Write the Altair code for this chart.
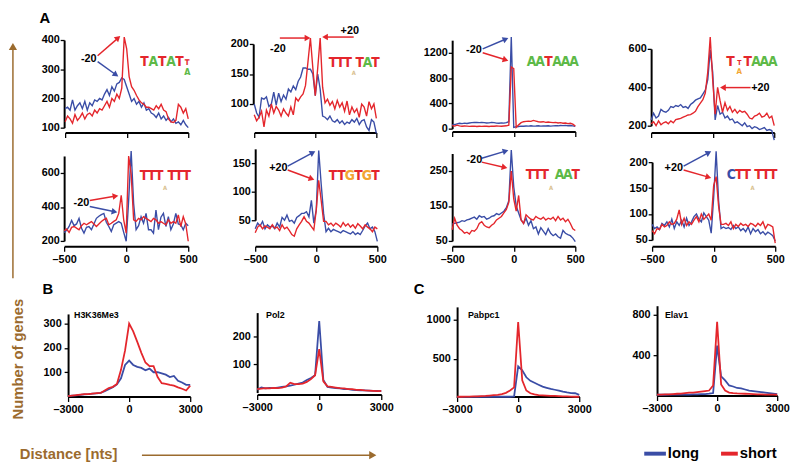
import math
import altair as alt
import pandas as pd

BLUE = "#3A4DA6"
RED = "#E4262C"
GREEN = "#5DB947"
ORANGE = "#F2A531"
BEIGE = "#D9BF8F"
BROWN = "#9B6B2E"
FONT = "Liberation Sans"
LOGO_FONT = "Liberation Sans Narrow, DejaVu Sans Condensed, Liberation Sans"

# ---------------- data ----------------
nts_a = list(range(-500, 501, 20))
nts_b = list(range(-3000, 3001, 200))

tatat_long = [165,170,160,195,160,175,185,165,190,160,185,175,195,190,200,195,215,230,210,240,
              225,250,255,270,265,240,215,190,200,180,190,170,185,160,165,150,145,135,150,130,
              140,125,135,120,130,115,120,110,125,110,100]
tatat_short = [120,140,130,115,145,125,135,150,130,145,150,140,160,150,165,160,175,190,170,200,
               190,215,200,235,410,370,275,240,228,210,195,185,180,170,170,165,160,175,165,180,
               160,155,130,120,118,125,180,170,150,165,130]

tttat_long = [100,85,78,110,108,112,96,100,120,98,118,104,115,108,125,120,130,124,138,145,
              160,160,158,158,150,114,150,125,80,78,74,80,72,70,74,68,72,66,70,68,
              74,70,76,66,72,74,62,56,74,70,51]
tttat_short = [82,72,78,88,62,90,80,100,85,96,90,80,92,85,80,95,82,110,105,112,
               117,131,170,210,160,114,160,210,128,102,108,98,104,92,106,95,102,88,105,82,
               95,86,92,78,100,95,80,104,92,100,76]

aataaa_long = [60,65,75,85,80,88,82,90,95,100,98,96,100,95,90,92,100,95,88,85,
               92,88,95,110,1450,20,30,35,40,38,42,40,45,40,42,45,40,44,42,46,
               40,44,48,45,50,48,52,46,50,45,35]
aataaa_short = [50,40,55,45,38,42,40,36,38,40,35,38,36,40,38,35,40,38,42,40,
                38,42,45,55,975,950,20,60,95,110,115,120,115,130,120,110,105,110,100,105,
                100,95,100,90,95,85,90,80,85,70,40]

ttaaa_long = [230,265,240,250,285,275,270,280,300,295,305,300,310,295,300,290,310,320,333,340,
              345,365,385,440,595,479,230,305,260,270,240,250,230,235,215,220,210,200,215,195,
              200,185,195,190,180,185,190,175,180,175,125]
ttaaa_short = [210,220,200,225,205,215,220,210,225,215,232,235,238,245,250,256,258,265,275,299,
               318,335,370,479,662,440,260,400,330,270,320,280,300,270,285,265,280,270,275,260,
               240,235,250,255,265,245,250,265,240,250,200]

ttttt_long = [250,262,285,320,290,300,333,275,246,280,285,266,300,333,345,355,362,310,285,256,
              295,305,314,305,250,198,440,729,420,266,290,343,304,362,266,266,246,382,266,340,
              362,285,343,266,300,362,300,295,266,304,290]
ttttt_short = [260,270,250,280,285,275,266,290,304,295,305,314,300,285,300,314,325,333,295,304,
               315,324,362,469,324,246,700,594,324,315,333,324,343,333,324,314,333,324,304,314,
               304,295,324,304,314,304,353,285,343,300,198]

ttgtgt_long = [35,45,40,48,35,42,38,40,35,45,38,55,50,59,48,50,45,55,58,62,
               62,65,56,85,45,68,172,114,62,30,36,30,34,32,30,28,32,30,28,26,
               30,25,28,25,32,40,45,35,38,30,13]
ttgtgt_short = [28,38,42,35,40,38,35,42,36,38,32,42,35,38,32,25,22,35,42,48,
                56,48,45,39,33,68,120,85,48,48,42,45,40,45,42,38,46,40,44,38,
                42,36,44,40,35,42,38,35,30,38,35]

tttaat_long = [98,100,102,104,108,106,110,112,115,118,112,122,118,120,112,115,120,122,128,125,
               130,135,145,165,310,205,150,130,110,100,115,95,108,85,90,70,88,78,68,85,
               72,65,70,62,58,80,72,68,65,58,48]
tttaat_short = [82,115,95,85,80,72,75,70,80,78,85,100,105,95,90,88,95,100,110,115,
                120,130,140,160,250,170,135,180,110,100,125,118,112,110,120,115,112,118,110,115,
                112,118,108,120,110,115,105,112,100,85,80]

cttttt_long = [80,72,75,70,82,78,85,75,90,72,85,78,88,75,92,78,85,95,100,90,
               85,102,95,88,63,132,221,126,72,75,72,74,70,78,72,75,68,72,66,75,
               62,72,66,70,62,66,60,65,62,58,48]
cttttt_short = [68,62,72,70,80,75,78,85,80,82,90,108,80,92,78,85,80,88,95,85,
                100,90,95,100,88,155,172,115,80,80,82,78,85,72,80,76,82,78,80,76,
                82,80,76,82,78,85,72,80,78,75,44]

h3k36_long = [2,4,5,7,9,10,12,13,15,22,30,38,50,75,130,148,130,122,118,108,115,100,100,95,90,80,85,65,58,48,48]
h3k36_short = [2,4,6,8,10,10,12,14,15,25,35,40,52,110,190,300,268,225,180,140,125,125,80,55,52,48,45,38,32,25,45]

pol2_long = [10,18,15,17,16,18,20,22,25,28,32,36,45,52,62,255,45,20,18,16,15,12,12,10,9,8,8,7,6,6,5]
pol2_short = [12,14,16,15,17,16,18,22,35,30,30,32,38,48,62,155,40,22,20,18,16,15,12,12,10,10,8,7,6,5,6]

pabpc1_long = [8,8,8,9,9,10,10,10,10,10,10,10,10,10,15,400,350,260,215,190,165,140,125,110,100,90,75,65,58,55,35]
pabpc1_short = [10,10,12,12,14,16,18,20,25,30,35,45,60,90,130,970,220,90,55,40,32,28,25,22,20,18,16,14,12,10,10]

elav1_long = [8,8,8,9,9,10,10,10,10,12,12,14,15,18,25,495,190,150,100,90,75,70,60,50,45,40,35,30,25,20,15]
elav1_short = [10,10,12,12,15,18,20,25,28,30,35,40,45,50,100,730,110,50,30,25,22,20,18,16,14,12,12,10,10,9,8]

# ---------------- layout (page pixels) ----------------
COL_LEFT = [8, 200, 400, 600]
COL_W = [192, 200, 200, 190]
ROW_TOP = [8, 140, 268]
ROW_H = [132, 128, 187]

TA = [-500, 0, 500]
TB = [-3000, 0, 3000]
panels = [
    dict(col=0, row=0, x=nts_a, long=tatat_long, short=tatat_short, xdom=[-500, 500], xpx=[64, 189],
         yref=((100, 123), (400, 34)), ydom=[100, 400], yticks=[100, 200, 300, 400], yax=63, xax=128, xt=TA),
    dict(col=1, row=0, x=nts_a, long=tttat_long, short=tttat_short, xdom=[-500, 500], xpx=[256, 380],
         yref=((100, 99), (200, 38)), ydom=[100, 200], yticks=[100, 150, 200], yax=255, xax=128, xt=TA),
    dict(col=2, row=0, x=nts_a, long=aataaa_long, short=aataaa_short, xdom=[-500, 500], xpx=[457, 582],
         yref=((0, 124), (1200, 47)), ydom=[0, 1400], yticks=[0, 400, 800, 1200], yax=457, xax=127, xt=TA),
    dict(col=3, row=0, x=nts_a, long=ttaaa_long, short=ttaaa_short, xdom=[-500, 500], xpx=[659, 784],
         yref=((200, 121), (600, 43)), ydom=[200, 600], yticks=[200, 400, 600], yax=659, xax=128, xt=TA),
    dict(col=0, row=1, x=nts_a, long=ttttt_long, short=ttttt_short, xdom=[-500, 500], xpx=[63, 189],
         yref=((200, 238), (600, 169)), ydom=[200, 700], yticks=[200, 400, 600], yax=63, xax=243.5, xt=TA),
    dict(col=1, row=1, x=nts_a, long=ttgtgt_long, short=ttgtgt_short, xdom=[-500, 500], xpx=[257, 381],
         yref=((50, 217), (150, 159)), ydom=[50, 175], yticks=[50, 100, 150], yax=257, xax=243.5, xt=TA),
    dict(col=2, row=1, x=nts_a, long=tttaat_long, short=tttaat_short, xdom=[-500, 500], xpx=[457, 582],
         yref=((50, 238), (250, 167)), ydom=[50, 300], yticks=[50, 150, 250], yax=457, xax=243.5, xt=TA),
    dict(col=3, row=1, x=nts_a, long=cttttt_long, short=cttttt_short, xdom=[-500, 500], xpx=[660, 785],
         yref=((50, 237), (200, 158)), ydom=[50, 200], yticks=[50, 100, 150, 200], yax=660, xax=243.5, xt=TA),
    dict(col=0, row=2, x=nts_b, long=h3k36_long, short=h3k36_short, xdom=[-3000, 3000], xpx=[67, 191],
         yref=((0, 396), (300, 322)), ydom=[0, 340], yticks=[100, 200, 300], yax=67, xax=396, xt=TB),
    dict(col=1, row=2, x=nts_b, long=pol2_long, short=pol2_short, xdom=[-3000, 3000], xpx=[259, 385],
         yref=((0, 392), (200, 335)), ydom=[0, 285], yticks=[100, 200], yax=259, xax=394, xt=TB),
    dict(col=2, row=2, x=nts_b, long=pabpc1_long, short=pabpc1_short, xdom=[-3000, 3000], xpx=[462, 586],
         yref=((0, 397), (1000, 318)), ydom=[0, 1165], yticks=[500, 1000], yax=462, xax=396, xt=TB),
    dict(col=3, row=2, x=nts_b, long=elav1_long, short=elav1_short, xdom=[-3000, 3000], xpx=[665, 787],
         yref=((0, 395), (800, 313)), ydom=[0, 890], yticks=[400, 800], yax=665, xax=395, xt=TB),
]

NEG_EXPR = "datum.value < 0 ? '\u2013' + abs(datum.value) : '' + datum.value"

# ---------------- annotations (page pixels) ----------------
OX, OY = 8, 8  # origin of the first cell, where annotations are attached

txt_left = [
    (38, 17, "A", 15, "black"), (41, 292, "B", 15, "black"), (418, 292, "C", 15, "black"),
    (18, 459, "Distance [nts]", 15, BROWN),
    (676, 458, "long", 15, "black"), (749, 458, "short", 15, "black"),
    (73, 316, "H3K36Me3", 9, "black"), (268, 316, "Pol2", 9, "black"),
    (473, 316, "Pabpc1", 9, "black"), (673, 316, "Elav1", 9, "black"),
]
txt_mid = [
    (16, 358, "Number of genes", 15, BROWN, 270),
    (88, 53.5, "-20", 11, "black", 0),
    (280, 43.5, "-20", 11, "black", 0), (353, 24.5, "+20", 11, "black", 0),
    (479, 44.5, "-20", 11, "black", 0),
    (770, 82.5, "+20", 11, "black", 0),
    (80.5, 199.5, "-20", 11, "black", 0),
    (280.5, 164, "+20", 11, "black", 0),
    (479.5, 156, "-20", 11, "black", 0),
    (682, 164, "+20", 11, "black", 0),
]
BIG = 14
logo = []
def add_logo(y, items):
    for it in items:
        if len(it) == 3:
            ch, cx, col = it
            logo.append((cx, y, ch, BIG, col))
        else:
            ch, cx, cy, sz, col = it
            logo.append((cx, cy, ch, sz, col))

add_logo(56.5, [("T", 144.5, RED), ("A", 153.5, GREEN), ("T", 162.5, RED), ("A", 171.5, GREEN), ("T", 180, RED),
                ("T", 188, 57, 8, RED), ("A", 188, 67, 9, GREEN)])
add_logo(57, [("T", 336, RED), ("T", 343.5, RED), ("T", 351, RED), ("A", 357, 68, 6, BEIGE),
              ("T", 363, RED), ("A", 371, GREEN), ("T", 379, RED)])
add_logo(56, [("A", 537.6, GREEN), ("A", 546.2, GREEN), ("T", 554.8, RED), ("A", 563.4, GREEN),
              ("A", 572, GREEN), ("A", 580.7, GREEN)])
add_logo(56, [("T", 739.5, RED), ("T", 748.5, 57, 7, RED), ("A", 748.5, 66, 8, ORANGE),
              ("T", 757, RED), ("A", 765.5, GREEN), ("A", 774, GREEN), ("A", 782.5, GREEN)])
add_logo(172, [("T", 144, RED), ("T", 151.8, RED), ("T", 159.5, RED), ("A", 165.5, 184, 6, BEIGE),
               ("T", 172.2, RED), ("T", 179.7, RED), ("T", 187.5, RED)])
add_logo(172, [("T", 336, RED), ("T", 344.6, RED), ("G", 353.2, ORANGE), ("T", 361.8, RED),
               ("G", 370.4, ORANGE), ("T", 379, RED)])
add_logo(171, [("T", 536, RED), ("T", 543.5, RED), ("T", 551, RED), ("A", 557.5, 184, 6, BEIGE),
               ("A", 566, GREEN), ("A", 574.5, GREEN), ("T", 582.5, RED)])
add_logo(171, [("C", 740.5, BLUE), ("T", 748.5, RED), ("T", 756, RED), ("A", 762, 184, 6, BEIGE),
               ("T", 768, RED), ("T", 775.5, RED), ("T", 783, RED)])

# arrows: tail -> tip, colour, width, head size
arrows = [
    (97, 50, 120, 30, RED, 1.5, 45), (97, 56, 118, 71, BLUE, 1.5, 45),
    (282, 32, 313, 32, RED, 1.5, 45), (357, 31, 325, 31, RED, 1.5, 45),
    (488, 43, 514, 32, BLUE, 1.5, 45), (488, 47, 514, 55, RED, 1.5, 45),
    (760, 82.3, 729, 82.3, RED, 1.5, 45),
    (89, 197, 118, 192, RED, 1.5, 45), (89, 203, 117, 209, BLUE, 1.5, 45),
    (290, 162, 318, 147, BLUE, 1.5, 45), (290, 166, 317, 176, RED, 1.5, 45),
    (487, 154, 514, 146, BLUE, 1.5, 45), (487, 158, 513, 164, RED, 1.5, 45),
    (692, 162, 720, 147, BLUE, 1.5, 45), (692, 166, 720, 174, RED, 1.5, 45),
    (11, 276, 11, 37, BROWN, 1.5, 70), (142, 455.5, 380, 455.5, BROWN, 1.5, 70),
]
plain_rules = [(652, 454, 674, 454, BLUE, 4), (730, 454, 747, 454, RED, 4)]

rule_rows, head_rows = [], []
for x1, y1, x2, y2, c, w, s in arrows:
    dx, dy = x2 - x1, y2 - y1
    L = math.hypot(dx, dy)
    ux, uy = dx / L, dy / L
    r = math.sqrt(s) / 2.0
    tip_off = 1.1547 * r
    cx, cy = x2 - ux * tip_off, y2 - uy * tip_off
    ang = math.degrees(math.atan2(dx, -dy)) % 360
    rule_rows.append((x1 - OX, y1 - OY, cx - OX, cy - OY, c, w))
    head_rows.append((cx - OX, cy - OY, ang, s, c))
for x1, y1, x2, y2, c, w in plain_rules:
    rule_rows.append((x1 - OX, y1 - OY, x2 - OX, y2 - OY, c, w))

df_tl = pd.DataFrame([(a - OX, b - OY, t, s, c) for a, b, t, s, c in txt_left], columns=["px", "py", "t", "fs", "c"])
df_tm = pd.DataFrame([(a - OX, b - OY, t, s, c, g) for a, b, t, s, c, g in txt_mid], columns=["px", "py", "t", "fs", "c", "ang"])
df_logo = pd.DataFrame([(a - OX, b - OY, t, s, c) for a, b, t, s, c in logo], columns=["px", "py", "t", "fs", "c"])
df_rule = pd.DataFrame(rule_rows, columns=["px", "py", "px2", "py2", "c", "w"])
df_head = pd.DataFrame(head_rows, columns=["px", "py", "ang", "s", "c"])

PX = alt.X("px:Q", scale=None, axis=None)
PY = alt.Y("py:Q", scale=None, axis=None)

ann_layers = [
    alt.Chart(df_rule).mark_rule().encode(
        x=PX, y=PY, x2="px2:Q", y2="py2:Q",
        color=alt.Color("c:N", scale=None), strokeWidth=alt.StrokeWidth("w:Q", scale=None)),
    alt.Chart(df_head).mark_point(shape="triangle", filled=True, opacity=1, strokeWidth=0).encode(
        x=PX, y=PY, angle=alt.Angle("ang:Q", scale=None), size=alt.Size("s:Q", scale=None),
        color=alt.Color("c:N", scale=None)),
    alt.Chart(df_tl).mark_text(align="left", baseline="alphabetic", font=FONT, fontWeight="bold").encode(
        x=PX, y=PY, text="t:N", size=alt.Size("fs:Q", scale=None), color=alt.Color("c:N", scale=None)),
    alt.Chart(df_tm).mark_text(align="center", baseline="middle", font=FONT, fontWeight="bold").encode(
        x=PX, y=PY, text="t:N", size=alt.Size("fs:Q", scale=None), color=alt.Color("c:N", scale=None),
        angle=alt.Angle("ang:Q", scale=None)),
    alt.Chart(df_logo).mark_text(align="center", baseline="middle", font=LOGO_FONT, fontWeight="bold").encode(
        x=PX, y=PY, text="t:N", size=alt.Size("fs:Q", scale=None), color=alt.Color("c:N", scale=None)),
]


def make_panel(p, extra=None):
    ox, oy = COL_LEFT[p["col"]], ROW_TOP[p["row"]]
    W, H = COL_W[p["col"]], ROW_H[p["row"]]
    n = len(p["x"])
    assert len(p["long"]) == n and len(p["short"]) == n
    df = pd.DataFrame({"nts": list(p["x"]) * 2,
                       "genes": list(p["long"]) + list(p["short"]),
                       "set": ["long"] * n + ["short"] * n})
    (v0, q0), (v1, q1) = p["yref"]
    k = (q1 - q0) / (v1 - v0)
    lo, hi = p["ydom"]
    yr = [q0 + (lo - v0) * k - oy, q0 + (hi - v0) * k - oy]
    xr = [p["xpx"][0] - ox, p["xpx"][1] - ox]
    row = p["row"]
    xaxis = alt.Axis(values=p["xt"], labels=row > 0, offset=p["xax"] - oy - H, tickSize=5,
                     labelPadding=2, labelExpr=NEG_EXPR, labelFlush=False, labelOverlap=False)
    yaxis = alt.Axis(values=p["yticks"], offset=-(p["yax"] - ox), tickSize=4, format="d",
                     labelPadding=1 if row < 2 else 3, labelOverlap=False)
    lines = alt.Chart(df).mark_line(strokeWidth=1.4 if row < 2 else 1.8).encode(
        x=alt.X("nts:Q", scale=alt.Scale(domain=p["xdom"], range=xr, nice=False, zero=False), axis=xaxis, title=None),
        y=alt.Y("genes:Q", scale=alt.Scale(domain=[lo, hi], range=yr, nice=False, zero=False), axis=yaxis, title=None),
        color=alt.Color("set:N", scale=alt.Scale(domain=["long", "short"], range=[BLUE, RED]), legend=None),
    )
    return alt.layer(lines, *(extra or [])).properties(width=W, height=H)


charts = []
for i, p in enumerate(panels):
    charts.append(make_panel(p, ann_layers if i == 0 else None))

chart = alt.concat(*charts, columns=4, spacing=0, bounds="flush").properties(
    padding=0
).configure_view(stroke=None).configure_axis(
    labelFont=FONT, labelFontWeight="bold", labelFontSize=11, labelColor="black",
    domainColor="black", domainWidth=2, tickColor="black", tickWidth=1.3, grid=False,
)

chart.save("out.html", embed_options={"renderer": "svg", "actions": False})
